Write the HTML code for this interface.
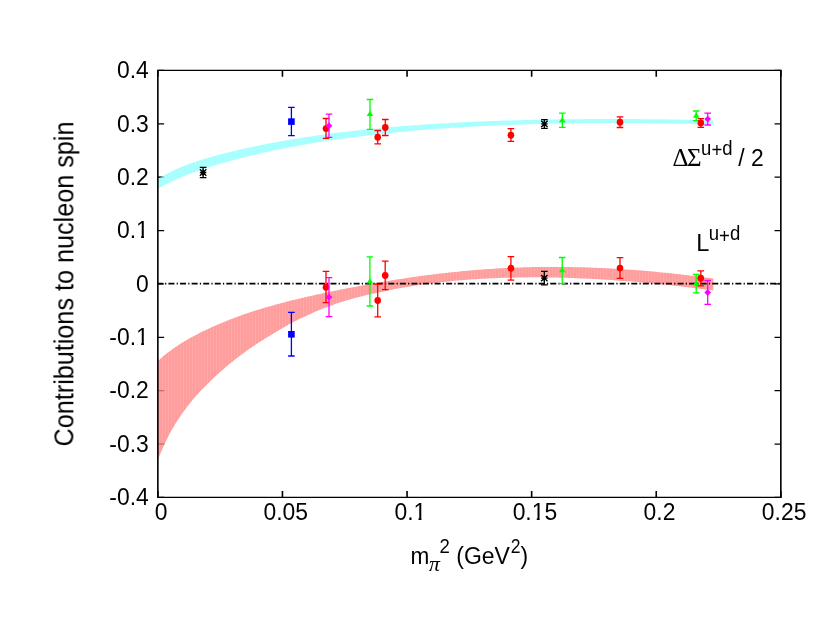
<!DOCTYPE html>
<html><head><meta charset="utf-8"><title>Contributions to nucleon spin</title>
<style>
html,body{margin:0;padding:0;background:#fff;}
body{width:830px;height:642px;overflow:hidden;}
svg{display:block;}
text{font-family:"Liberation Sans",sans-serif;fill:#000;}
.sym{font-family:"Liberation Serif",serif;}
.symi{font-family:"Liberation Serif",serif;font-style:italic;}
</style></head><body>
<svg width="830" height="642" viewBox="0 0 830 642">
<defs>
<pattern id="pc" width="3" height="8" patternUnits="userSpaceOnUse"><rect width="3" height="8" fill="#a6ffff"/><rect x="0" width="0.7" height="8" fill="#b4ffff"/></pattern>
<pattern id="pr" width="3" height="8" patternUnits="userSpaceOnUse"><rect width="3" height="8" fill="#ff9c9c"/><rect x="0" width="0.7" height="8" fill="#ffabab"/></pattern>
</defs>
<rect width="830" height="642" fill="#fff"/>

<g stroke="#000" fill="none">
<path stroke-width="1.3" d="M157.85,70.45 h6.3 M780.85,70.45 h-6.3"/>
<path stroke-width="1.3" d="M157.85,123.82 h6.3 M780.85,123.82 h-6.3"/>
<path stroke-width="1.3" d="M157.85,177.19 h6.3 M780.85,177.19 h-6.3"/>
<path stroke-width="1.3" d="M157.85,230.56 h6.3 M780.85,230.56 h-6.3"/>
<path stroke-width="1.3" d="M157.85,283.93 h6.3 M780.85,283.93 h-6.3"/>
<path stroke-width="1.3" d="M157.85,337.29 h6.3 M780.85,337.29 h-6.3"/>
<path stroke-width="1.3" d="M157.85,390.66 h6.3 M780.85,390.66 h-6.3"/>
<path stroke-width="1.3" d="M157.85,444.03 h6.3 M780.85,444.03 h-6.3"/>
<path stroke-width="1.3" d="M157.85,497.40 h6.3 M780.85,497.40 h-6.3"/>
<path stroke-width="1.6" d="M157.85,497.4 v-6.3 M157.85,70.45 v6.3"/>
<path stroke-width="1.6" d="M282.45,497.4 v-6.3 M282.45,70.45 v6.3"/>
<path stroke-width="1.6" d="M407.05,497.4 v-6.3 M407.05,70.45 v6.3"/>
<path stroke-width="1.6" d="M531.65,497.4 v-6.3 M531.65,70.45 v6.3"/>
<path stroke-width="1.6" d="M656.25,497.4 v-6.3 M656.25,70.45 v6.3"/>
<path stroke-width="1.6" d="M780.85,497.4 v-6.3 M780.85,70.45 v6.3"/>
</g>
<polygon points="158.0,179.26 161.0,177.27 164.0,175.47 167.0,173.80 170.0,172.23 173.0,170.75 176.0,169.35 179.0,168.06 182.0,166.82 185.0,165.62 188.0,164.46 191.0,163.34 194.0,162.26 197.0,161.25 200.0,160.29 203.0,159.37 206.0,158.46 209.0,157.58 212.0,156.73 215.0,155.89 218.0,155.07 221.0,154.27 224.0,153.49 227.0,152.72 230.0,151.98 233.0,151.24 236.0,150.53 239.0,149.82 242.0,149.13 245.0,148.46 248.0,147.80 251.0,147.15 254.0,146.51 257.0,145.89 260.0,145.28 263.0,144.67 266.0,144.08 269.0,143.51 272.0,142.94 275.0,142.38 278.0,141.83 281.0,141.29 284.0,140.77 287.0,140.25 290.0,139.74 293.0,139.24 296.0,138.75 299.0,138.26 302.0,137.79 305.0,137.33 308.0,136.87 311.0,136.42 314.0,135.98 317.0,135.55 320.0,135.12 323.0,134.71 326.0,134.30 329.0,133.90 332.0,133.50 335.0,133.12 338.0,132.74 341.0,132.36 344.0,132.00 347.0,131.64 350.0,131.29 353.0,130.94 356.0,130.61 359.0,130.27 362.0,129.95 365.0,129.63 368.0,129.32 371.0,129.01 374.0,128.71 377.0,128.42 380.0,128.13 383.0,127.85 386.0,127.58 389.0,127.31 392.0,127.04 395.0,126.79 398.0,126.53 401.0,126.29 404.0,126.05 407.0,125.81 410.0,125.58 413.0,125.36 416.0,125.14 419.0,124.92 422.0,124.71 425.0,124.51 428.0,124.31 431.0,124.11 434.0,123.92 437.0,123.73 440.0,123.55 443.0,123.37 446.0,123.20 449.0,123.03 452.0,122.87 455.0,122.71 458.0,122.55 461.0,122.40 464.0,122.25 467.0,122.11 470.0,121.97 473.0,121.83 476.0,121.70 479.0,121.57 482.0,121.45 485.0,121.33 488.0,121.21 491.0,121.09 494.0,120.98 497.0,120.88 500.0,120.77 503.0,120.67 506.0,120.58 509.0,120.48 512.0,120.39 515.0,120.30 518.0,120.22 521.0,120.14 524.0,120.06 527.0,119.99 530.0,119.91 533.0,119.85 536.0,119.78 539.0,119.72 542.0,119.66 545.0,119.60 548.0,119.55 551.0,119.50 554.0,119.45 557.0,119.40 560.0,119.36 563.0,119.32 566.0,119.28 569.0,119.24 572.0,119.21 575.0,119.18 578.0,119.15 581.0,119.13 584.0,119.11 587.0,119.09 590.0,119.07 593.0,119.06 596.0,119.04 599.0,119.03 602.0,119.02 605.0,119.02 608.0,119.02 611.0,119.02 614.0,119.02 617.0,119.02 620.0,119.03 623.0,119.03 626.0,119.04 629.0,119.06 632.0,119.07 635.0,119.09 638.0,119.11 641.0,119.13 644.0,119.15 647.0,119.18 650.0,119.20 653.0,119.23 656.0,119.26 659.0,119.30 662.0,119.33 665.0,119.37 668.0,119.41 671.0,119.45 674.0,119.49 677.0,119.54 680.0,119.58 683.0,119.63 686.0,119.68 689.0,119.73 692.0,119.79 695.0,119.84 698.0,119.90 701.0,119.96 704.0,120.02 707.0,120.08 710.0,120.15 713.0,120.22 713.3,120.22 713.3,124.48 713.0,124.47 710.0,124.38 707.0,124.30 704.0,124.21 701.0,124.13 698.0,124.05 695.0,123.98 692.0,123.90 689.0,123.83 686.0,123.76 683.0,123.70 680.0,123.63 677.0,123.57 674.0,123.51 671.0,123.46 668.0,123.40 665.0,123.35 662.0,123.31 659.0,123.26 656.0,123.22 653.0,123.18 650.0,123.14 647.0,123.11 644.0,123.08 641.0,123.05 638.0,123.02 635.0,123.00 632.0,122.98 629.0,122.96 626.0,122.95 623.0,122.94 620.0,122.93 617.0,122.92 614.0,122.92 611.0,122.92 608.0,122.93 605.0,122.93 602.0,122.94 599.0,122.96 596.0,122.97 593.0,122.99 590.0,123.01 587.0,123.04 584.0,123.07 581.0,123.10 578.0,123.13 575.0,123.17 572.0,123.21 569.0,123.26 566.0,123.31 563.0,123.36 560.0,123.41 557.0,123.47 554.0,123.53 551.0,123.60 548.0,123.66 545.0,123.74 542.0,123.81 539.0,123.89 536.0,123.97 533.0,124.06 530.0,124.15 527.0,124.24 524.0,124.34 521.0,124.44 518.0,124.54 515.0,124.65 512.0,124.76 509.0,124.88 506.0,125.00 503.0,125.12 500.0,125.25 497.0,125.38 494.0,125.52 491.0,125.66 488.0,125.80 485.0,125.95 482.0,126.10 479.0,126.26 476.0,126.42 473.0,126.58 470.0,126.75 467.0,126.93 464.0,127.10 461.0,127.29 458.0,127.47 455.0,127.66 452.0,127.86 449.0,128.06 446.0,128.27 443.0,128.48 440.0,128.69 437.0,128.91 434.0,129.14 431.0,129.37 428.0,129.60 425.0,129.84 422.0,130.09 419.0,130.34 416.0,130.60 413.0,130.86 410.0,131.12 407.0,131.40 404.0,131.67 401.0,131.96 398.0,132.25 395.0,132.54 392.0,132.84 389.0,133.15 386.0,133.46 383.0,133.78 380.0,134.11 377.0,134.44 374.0,134.78 371.0,135.12 368.0,135.47 365.0,135.83 362.0,136.19 359.0,136.56 356.0,136.94 353.0,137.33 350.0,137.72 347.0,138.12 344.0,138.53 341.0,138.94 338.0,139.36 335.0,139.79 332.0,140.23 329.0,140.67 326.0,141.13 323.0,141.59 320.0,142.06 317.0,142.53 314.0,143.02 311.0,143.52 308.0,144.02 305.0,144.53 302.0,145.06 299.0,145.59 296.0,146.13 293.0,146.68 290.0,147.25 287.0,147.82 284.0,148.40 281.0,149.00 278.0,149.60 275.0,150.22 272.0,150.85 269.0,151.49 266.0,152.14 263.0,152.81 260.0,153.48 257.0,154.18 254.0,154.88 251.0,155.60 248.0,156.33 245.0,157.07 242.0,157.83 239.0,158.61 236.0,159.40 233.0,160.20 230.0,161.02 227.0,161.86 224.0,162.71 221.0,163.58 218.0,164.46 215.0,165.36 212.0,166.29 209.0,167.23 206.0,168.19 203.0,169.16 200.0,170.17 197.0,171.19 194.0,172.26 191.0,173.40 188.0,174.57 185.0,175.77 182.0,176.99 179.0,178.25 176.0,179.54 173.0,180.91 170.0,182.34 167.0,183.82 164.0,185.35 161.0,186.95 158.0,188.63" fill="url(#pc)"/>
<polygon points="158.0,361.12 161.0,358.24 164.0,355.62 167.0,353.20 170.0,350.92 173.0,348.76 176.0,346.71 179.0,344.75 182.0,342.87 185.0,341.06 188.0,339.31 191.0,337.62 194.0,335.98 197.0,334.40 200.0,332.86 203.0,331.37 206.0,329.91 209.0,328.50 212.0,327.12 215.0,325.78 218.0,324.48 221.0,323.20 224.0,321.96 227.0,320.75 230.0,319.57 233.0,318.41 236.0,317.29 239.0,316.19 242.0,315.11 245.0,314.06 248.0,313.04 251.0,312.04 254.0,311.06 257.0,310.10 260.0,309.17 263.0,308.26 266.0,307.37 269.0,306.49 272.0,305.64 275.0,304.80 278.0,303.98 281.0,303.18 284.0,302.39 287.0,301.62 290.0,300.86 293.0,300.11 296.0,299.38 299.0,298.66 302.0,297.95 305.0,297.25 308.0,296.56 311.0,295.88 314.0,295.21 317.0,294.55 320.0,293.90 323.0,293.25 326.0,292.62 329.0,291.99 332.0,291.37 335.0,290.76 338.0,290.15 341.0,289.55 344.0,288.96 347.0,288.37 350.0,287.79 353.0,287.22 356.0,286.65 359.0,286.08 362.0,285.52 365.0,284.97 368.0,284.43 371.0,283.89 374.0,283.35 377.0,282.83 380.0,282.31 383.0,281.80 386.0,281.30 389.0,280.80 392.0,280.31 395.0,279.83 398.0,279.36 401.0,278.89 404.0,278.43 407.0,277.98 410.0,277.54 413.0,277.11 416.0,276.68 419.0,276.26 422.0,275.86 425.0,275.46 428.0,275.06 431.0,274.68 434.0,274.31 437.0,273.94 440.0,273.58 443.0,273.24 446.0,272.90 449.0,272.57 452.0,272.25 455.0,271.93 458.0,271.63 461.0,271.34 464.0,271.05 467.0,270.78 470.0,270.51 473.0,270.25 476.0,270.01 479.0,269.77 482.0,269.54 485.0,269.32 488.0,269.11 491.0,268.91 494.0,268.72 497.0,268.54 500.0,268.36 503.0,268.20 506.0,268.05 509.0,267.91 512.0,267.77 515.0,267.65 518.0,267.53 521.0,267.43 524.0,267.33 527.0,267.25 530.0,267.17 533.0,267.10 536.0,267.05 539.0,267.00 542.0,266.96 545.0,266.93 548.0,266.91 551.0,266.90 554.0,266.90 557.0,266.91 560.0,266.92 563.0,266.95 566.0,266.98 569.0,267.02 572.0,267.07 575.0,267.14 578.0,267.20 581.0,267.28 584.0,267.37 587.0,267.46 590.0,267.56 593.0,267.67 596.0,267.79 599.0,267.92 602.0,268.06 605.0,268.20 608.0,268.35 611.0,268.51 614.0,268.68 617.0,268.86 620.0,269.04 623.0,269.23 626.0,269.43 629.0,269.64 632.0,269.86 635.0,270.08 638.0,270.31 641.0,270.55 644.0,270.80 647.0,271.05 650.0,271.31 653.0,271.58 656.0,271.86 659.0,272.14 662.0,272.43 665.0,272.73 668.0,273.04 671.0,273.35 674.0,273.67 677.0,274.00 680.0,274.33 683.0,274.67 686.0,275.02 689.0,275.38 692.0,275.74 695.0,276.11 698.0,276.49 701.0,276.87 704.0,277.26 707.0,277.66 710.0,278.06 713.0,278.47 713.3,278.52 713.3,290.52 713.0,290.48 710.0,290.08 707.0,289.68 704.0,289.29 701.0,288.91 698.0,288.53 695.0,288.15 692.0,287.78 689.0,287.42 686.0,287.06 683.0,286.71 680.0,286.36 677.0,286.02 674.0,285.68 671.0,285.35 668.0,285.03 665.0,284.71 662.0,284.40 659.0,284.09 656.0,283.79 653.0,283.50 650.0,283.21 647.0,282.93 644.0,282.65 641.0,282.38 638.0,282.12 635.0,281.86 632.0,281.61 629.0,281.37 626.0,281.13 623.0,280.90 620.0,280.67 617.0,280.46 614.0,280.24 611.0,280.04 608.0,279.84 605.0,279.65 602.0,279.47 599.0,279.29 596.0,279.12 593.0,278.96 590.0,278.81 587.0,278.66 584.0,278.52 581.0,278.39 578.0,278.26 575.0,278.15 572.0,278.04 569.0,277.94 566.0,277.84 563.0,277.76 560.0,277.68 557.0,277.61 554.0,277.55 551.0,277.50 548.0,277.45 545.0,277.42 542.0,277.39 539.0,277.37 536.0,277.36 533.0,277.36 530.0,277.37 527.0,277.38 524.0,277.41 521.0,277.44 518.0,277.49 515.0,277.54 512.0,277.61 509.0,277.68 506.0,277.76 503.0,277.86 500.0,277.96 497.0,278.07 494.0,278.20 491.0,278.33 488.0,278.48 485.0,278.63 482.0,278.80 479.0,278.98 476.0,279.17 473.0,279.37 470.0,279.58 467.0,279.80 464.0,280.03 461.0,280.28 458.0,280.54 455.0,280.81 452.0,281.09 449.0,281.39 446.0,281.70 443.0,282.02 440.0,282.35 437.0,282.70 434.0,283.06 431.0,283.44 428.0,283.83 425.0,284.23 422.0,284.65 419.0,285.08 416.0,285.53 413.0,285.99 410.0,286.47 407.0,286.96 404.0,287.47 401.0,288.00 398.0,288.54 395.0,289.10 392.0,289.67 389.0,290.27 386.0,290.88 383.0,291.51 380.0,292.15 377.0,292.79 374.0,293.44 371.0,294.12 368.0,294.81 365.0,295.53 362.0,296.26 359.0,297.02 356.0,297.79 353.0,298.59 350.0,299.41 347.0,300.26 344.0,301.13 341.0,302.02 338.0,303.01 335.0,304.07 332.0,305.16 329.0,306.27 326.0,307.41 323.0,308.58 320.0,309.78 317.0,311.04 314.0,312.32 311.0,313.64 308.0,314.99 305.0,316.38 302.0,317.79 299.0,319.24 296.0,320.73 293.0,322.25 290.0,323.83 287.0,325.49 284.0,327.19 281.0,328.93 278.0,330.71 275.0,332.54 272.0,334.41 269.0,336.27 266.0,338.05 263.0,339.88 260.0,341.77 257.0,343.70 254.0,345.69 251.0,347.73 248.0,349.82 245.0,351.97 242.0,354.17 239.0,356.43 236.0,358.75 233.0,361.13 230.0,363.57 227.0,366.08 224.0,368.65 221.0,371.28 218.0,373.97 215.0,376.72 212.0,379.54 209.0,382.43 206.0,385.41 203.0,388.46 200.0,391.62 197.0,394.88 194.0,398.32 191.0,401.93 188.0,405.70 185.0,409.66 182.0,413.81 179.0,418.19 176.0,422.82 173.0,427.74 170.0,433.10 167.0,438.92 164.0,445.23 161.0,451.90 158.0,459.47" fill="url(#pr)"/>
<path d="M157.85,177.19 h6.3" stroke="#000" stroke-width="1.3" opacity="0.28" fill="none"/>
<path d="M157.85,390.66 h6.3" stroke="#000" stroke-width="1.3" opacity="0.28" fill="none"/>
<path d="M157.85,444.03 h6.3" stroke="#000" stroke-width="1.3" opacity="0.28" fill="none"/>
<path d="M157.04999999999998,70.45 H781.65 M157.04999999999998,497.4 H781.65" stroke="#000" stroke-width="1.3" fill="none"/>
<path d="M157.85,70.45 V497.4 M780.85,70.45 V497.4" stroke="#000" stroke-width="1.6" fill="none"/>
<path d="M157.85,283.6 H780.85" stroke="#000" stroke-width="1.8" stroke-dasharray="6.0 2.2 1.25 2.12" stroke-dashoffset="0.95" fill="none"/>
<g><path d="M203.1,167.4 V177.6 M199.8,167.4 h6.6 M199.8,177.6 h6.6" stroke="#000" stroke-width="1.3" fill="none"/><path d="M199.9,172.5 H206.3 M203.1,169.3 V175.7 M199.9,169.3 L206.3,175.7 M199.9,175.7 L206.3,169.3" stroke="#000" stroke-width="1.35" fill="none"/></g>
<g><path d="M291.4,107.4 V135.6 M288.1,107.4 h6.6 M288.1,135.6 h6.6" stroke="#0000ff" stroke-width="1.3" fill="none"/><rect x="288.1" y="118.3" width="6.6" height="6.6" fill="#0000ff"/></g>
<g><path d="M326.0,118.5 V138.3 M322.7,118.5 h6.6 M322.7,138.3 h6.6" stroke="#ff0000" stroke-width="1.3" fill="none"/><ellipse cx="326.0" cy="128.6" rx="3.3" ry="3.45" fill="#ff0000"/></g>
<g><path d="M329.0,114.2 V137.3 M325.7,114.2 h6.6 M325.7,137.3 h6.6" stroke="#ff00ff" stroke-width="1.3" fill="none"/><path d="M325.7,125.7 L329.0,122.3 L332.3,125.7 L329.0,129.1Z" fill="#ff00ff"/></g>
<g><path d="M370.0,99.5 V129.3 M366.7,99.5 h6.6 M366.7,129.3 h6.6" stroke="#00ff00" stroke-width="1.3" fill="none"/><path d="M370.0,110.8 L373.3,116.0 L366.7,116.0Z" fill="#00ff00"/></g>
<g><path d="M377.7,130.5 V143.9 M374.4,130.5 h6.6 M374.4,143.9 h6.6" stroke="#ff0000" stroke-width="1.3" fill="none"/><ellipse cx="377.7" cy="137.2" rx="3.3" ry="3.45" fill="#ff0000"/></g>
<g><path d="M385.3,119.5 V135.5 M382.0,119.5 h6.6 M382.0,135.5 h6.6" stroke="#ff0000" stroke-width="1.3" fill="none"/><ellipse cx="385.3" cy="127.5" rx="3.3" ry="3.45" fill="#ff0000"/></g>
<g><path d="M510.9,128.7 V141.3 M507.6,128.7 h6.6 M507.6,141.3 h6.6" stroke="#ff0000" stroke-width="1.3" fill="none"/><ellipse cx="510.9" cy="135.2" rx="3.3" ry="3.45" fill="#ff0000"/></g>
<g><path d="M544.4,119.6 V128.3 M541.1,119.6 h6.6 M541.1,128.3 h6.6" stroke="#000" stroke-width="1.3" fill="none"/><path d="M541.2,123.9 H547.6 M544.4,120.7 V127.1 M541.2,120.7 L547.6,127.1 M541.2,127.1 L547.6,120.7" stroke="#000" stroke-width="1.35" fill="none"/></g>
<g><path d="M562.3,113.1 V127.3 M559.0,113.1 h6.6 M559.0,127.3 h6.6" stroke="#00ff00" stroke-width="1.3" fill="none"/><path d="M562.3,117.0 L565.6,122.2 L559.0,122.2Z" fill="#00ff00"/></g>
<g><path d="M620.0,116.9 V127.5 M616.7,116.9 h6.6 M616.7,127.5 h6.6" stroke="#ff0000" stroke-width="1.3" fill="none"/><ellipse cx="620.0" cy="122.2" rx="3.3" ry="3.45" fill="#ff0000"/></g>
<g><path d="M696.2,111.0 V120.6 M692.9,111.0 h6.6 M692.9,120.6 h6.6" stroke="#00ff00" stroke-width="1.3" fill="none"/><path d="M696.2,112.6 L699.5,117.8 L692.9,117.8Z" fill="#00ff00"/></g>
<g><path d="M700.8,118.6 V127.3 M697.5,118.6 h6.6 M697.5,127.3 h6.6" stroke="#ff0000" stroke-width="1.3" fill="none"/><ellipse cx="700.8" cy="123.0" rx="3.3" ry="3.45" fill="#ff0000"/></g>
<g><path d="M707.7,113.1 V125.0 M704.4,113.1 h6.6 M704.4,125.0 h6.6" stroke="#ff00ff" stroke-width="1.3" fill="none"/><path d="M704.4,119.1 L707.7,115.7 L711.0,119.1 L707.7,122.5Z" fill="#ff00ff"/></g>
<g><path d="M291.4,312.4 V356.0 M288.1,312.4 h6.6 M288.1,356.0 h6.6" stroke="#0000ff" stroke-width="1.3" fill="none"/><rect x="288.1" y="331.0" width="6.6" height="6.6" fill="#0000ff"/></g>
<g><path d="M326.0,271.4 V302.6 M322.7,271.4 h6.6 M322.7,302.6 h6.6" stroke="#ff0000" stroke-width="1.3" fill="none"/><ellipse cx="326.0" cy="287.2" rx="3.3" ry="3.45" fill="#ff0000"/></g>
<g><path d="M329.0,277.6 V316.7 M325.7,277.6 h6.6 M325.7,316.7 h6.6" stroke="#ff00ff" stroke-width="1.3" fill="none"/><path d="M325.7,297.2 L329.0,293.8 L332.3,297.2 L329.0,300.6Z" fill="#ff00ff"/></g>
<g><path d="M369.9,256.8 V306.0 M366.6,256.8 h6.6 M366.6,306.0 h6.6" stroke="#00ff00" stroke-width="1.3" fill="none"/><path d="M369.9,278.2 L373.2,283.4 L366.6,283.4Z" fill="#00ff00"/></g>
<g><path d="M377.7,284.1 V316.9 M374.4,284.1 h6.6 M374.4,316.9 h6.6" stroke="#ff0000" stroke-width="1.3" fill="none"/><ellipse cx="377.7" cy="300.5" rx="3.3" ry="3.45" fill="#ff0000"/></g>
<g><path d="M385.2,261.1 V289.7 M381.9,261.1 h6.6 M381.9,289.7 h6.6" stroke="#ff0000" stroke-width="1.3" fill="none"/><ellipse cx="385.2" cy="275.5" rx="3.3" ry="3.45" fill="#ff0000"/></g>
<g><path d="M510.9,256.6 V280.1 M507.6,256.6 h6.6 M507.6,280.1 h6.6" stroke="#ff0000" stroke-width="1.3" fill="none"/><ellipse cx="510.9" cy="268.3" rx="3.3" ry="3.45" fill="#ff0000"/></g>
<g><path d="M544.3,271.4 V284.8 M541.0,271.4 h6.6 M541.0,284.8 h6.6" stroke="#000" stroke-width="1.3" fill="none"/><path d="M541.1,278.1 H547.5 M544.3,274.9 V281.3 M541.1,274.9 L547.5,281.3 M541.1,281.3 L547.5,274.9" stroke="#000" stroke-width="1.35" fill="none"/></g>
<g><path d="M562.2,257.5 V283.7 M558.9,257.5 h6.6 M558.9,283.7 h6.6" stroke="#00ff00" stroke-width="1.3" fill="none"/><path d="M562.2,267.0 L565.5,272.2 L558.9,272.2Z" fill="#00ff00"/></g>
<g><path d="M620.0,257.6 V278.3 M616.7,257.6 h6.6 M616.7,278.3 h6.6" stroke="#ff0000" stroke-width="1.3" fill="none"/><ellipse cx="620.0" cy="268.1" rx="3.3" ry="3.45" fill="#ff0000"/></g>
<g><path d="M696.2,274.5 V292.9 M692.9,274.5 h6.6 M692.9,292.9 h6.6" stroke="#00ff00" stroke-width="1.3" fill="none"/><path d="M696.2,280.3 L699.5,285.5 L692.9,285.5Z" fill="#00ff00"/></g>
<g><path d="M700.8,270.8 V285.8 M697.5,270.8 h6.6 M697.5,285.8 h6.6" stroke="#ff0000" stroke-width="1.3" fill="none"/><ellipse cx="700.8" cy="278.3" rx="3.3" ry="3.45" fill="#ff0000"/></g>
<g><path d="M707.7,280.5 V304.3 M704.4,280.5 h6.6 M704.4,304.3 h6.6" stroke="#ff00ff" stroke-width="1.3" fill="none"/><path d="M704.4,292.4 L707.7,289.0 L711.0,292.4 L707.7,295.8Z" fill="#ff00ff"/></g>
<g opacity="0.999">
<text transform="translate(148.8,78.2) scale(1.0,1.07)" font-size="22.9" text-anchor="end">0.4</text>
<text transform="translate(148.8,131.5) scale(1.0,1.07)" font-size="22.9" text-anchor="end">0.3</text>
<text transform="translate(148.8,184.9) scale(1.0,1.07)" font-size="22.9" text-anchor="end">0.2</text>
<text transform="translate(148.8,238.3) scale(1.0,1.07)" font-size="22.9" text-anchor="end">0.1</text>
<text transform="translate(148.8,291.6) scale(1.0,1.07)" font-size="22.9" text-anchor="end">0</text>
<text transform="translate(148.8,345.0) scale(1.0,1.07)" font-size="22.9" text-anchor="end">-0.1</text>
<text transform="translate(148.8,398.4) scale(1.0,1.07)" font-size="22.9" text-anchor="end">-0.2</text>
<text transform="translate(148.8,451.7) scale(1.0,1.07)" font-size="22.9" text-anchor="end">-0.3</text>
<text transform="translate(148.8,505.1) scale(1.0,1.07)" font-size="22.9" text-anchor="end">-0.4</text>
<text transform="translate(161.2,520.4) scale(1.0,1.07)" font-size="22.9" text-anchor="middle">0</text>
<text transform="translate(285.8,520.4) scale(1.0,1.07)" font-size="22.9" text-anchor="middle">0.05</text>
<text transform="translate(410.3,520.4) scale(1.0,1.07)" font-size="22.9" text-anchor="middle">0.1</text>
<text transform="translate(534.9,520.4) scale(1.0,1.07)" font-size="22.9" text-anchor="middle">0.15</text>
<text transform="translate(659.5,520.4) scale(1.0,1.07)" font-size="22.9" text-anchor="middle">0.2</text>
<text transform="translate(784.1,520.4) scale(1.0,1.07)" font-size="22.9" text-anchor="middle">0.25</text>
<text transform="translate(73.3,283.95) rotate(-90) scale(1.0,1.08)" font-size="25.2" text-anchor="middle">Contributions to nucleon spin</text>
<text transform="translate(410.4,563.9) scale(1.0,1.06)" font-size="22.6" text-anchor="start">m</text>
<text transform="translate(428.9,571.1) scale(1.0,1.0)" font-size="21.8" text-anchor="start" class="symi">π</text>
<text transform="translate(439.4,552.6) scale(1.0,1.06)" font-size="18.6" text-anchor="start">2</text>
<text transform="translate(456.3,563.9) scale(1.0,1.04)" font-size="23.0" text-anchor="start">(GeV</text>
<text transform="translate(510.8,553.2) scale(1.0,1.12)" font-size="17.6" text-anchor="start">2</text>
<text transform="translate(520.5,563.9) scale(1.0,1.04)" font-size="23.0" text-anchor="start">)</text>
<text transform="translate(672.6,165.8) scale(1.0,1.0)" font-size="25" text-anchor="start" class="sym">Δ</text>
<text transform="translate(686.9,165.8) scale(1.0,1.0)" font-size="25" text-anchor="start" class="sym">Σ</text>
<text transform="translate(701.1,154.6) scale(1.0,1.06)" font-size="18.5" text-anchor="start">u<tspan dy="2.3">+</tspan><tspan dy="-2.3">d</tspan></text>
<text transform="translate(738.3,165.9) scale(1.0,1.06)" font-size="22.9" text-anchor="start">/ 2</text>
<text transform="translate(696.3,251.2) scale(1.0,1.04)" font-size="23.6" text-anchor="start">L</text>
<text transform="translate(708.7,240.2) scale(1.0,1.07)" font-size="18.6" text-anchor="start">u<tspan dy="2.2">+</tspan><tspan dy="-2.2">d</tspan></text>
</g>
<rect x="137.27" y="235.85" width="3.85" height="3.2" fill="#fff"/><rect x="144.02" y="235.85" width="4.95" height="3.2" fill="#fff"/>
<rect x="137.27" y="342.55" width="3.85" height="3.2" fill="#fff"/><rect x="144.02" y="342.55" width="4.95" height="3.2" fill="#fff"/>
<rect x="414.68" y="517.95" width="3.85" height="3.2" fill="#fff"/><rect x="421.43" y="517.95" width="4.95" height="3.2" fill="#fff"/>
<rect x="532.92" y="517.95" width="3.85" height="3.2" fill="#fff"/><rect x="539.67" y="517.95" width="4.95" height="3.2" fill="#fff"/>
</svg></body></html>
